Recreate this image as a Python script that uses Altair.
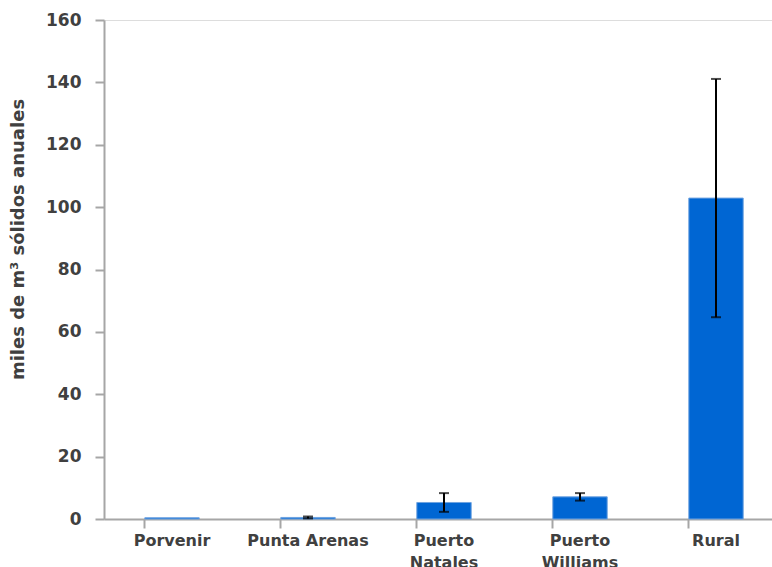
import altair as alt
import pandas as pd

# Annual solid volume by locality (thousand m³), with error half-widths
localidades = ["Porvenir", "Punta Arenas", "Puerto Natales", "Puerto Williams", "Rural"]
valores = [0.4, 0.5, 5.3, 7.1, 102.9]
errores = [0.0, 0.3, 3.0, 1.2, 38.2]

df = pd.DataFrame({"loc": localidades, "val": valores, "err": errores})
df["lo"] = df["val"] - df["err"]
df["hi"] = df["val"] + df["err"]

FONT = "DejaVu Sans"
GREY = "#a6a6a6"
TEXT = "#404040"

x_enc = alt.X(
    "loc:N",
    sort=localidades,
    scale=alt.Scale(range=[0, 680], paddingInner=0.6, paddingOuter=0.3),
    axis=alt.Axis(
        title=None,
        labelAngle=0,
        labelFont=FONT,
        labelFontSize=16,
        labelFontWeight="bold",
        labelColor=TEXT,
        labelPadding=4,
        labelLineHeight=22,
        labelExpr="indexof(datum.label, 'Puerto') == 0 ? split(datum.label, ' ') : datum.label",
        bandPosition=0,
        tickSize=9,
        tickWidth=2,
        tickColor=GREY,
        domainColor=GREY,
        domainWidth=2,
    ),
)

y_scale = alt.Scale(domain=[0, 160], nice=False)
y_axis = alt.Axis(
    title="miles de m³ sólidos anuales",
    values=[0, 20, 40, 60, 80, 100, 120, 140, 160],
    grid=False,
    labelFont=FONT,
    labelFontSize=17,
    labelFontWeight="bold",
    labelColor=TEXT,
    labelPadding=14,
    tickSize=9,
    tickWidth=2,
    tickColor=GREY,
    domainColor=GREY,
    domainWidth=2,
    titleFont=FONT,
    titleFontSize=18,
    titleFontWeight="bold",
    titleColor=TEXT,
    titleAlign="center",
    titleBaseline="middle",
    titleX=-86,
    titleY=219,
)

bars = alt.Chart(df).mark_bar(color="#0066d3", stroke="#6fa3e0", strokeWidth=1).encode(
    x=x_enc,
    y=alt.Y("val:Q", scale=y_scale, axis=y_axis),
)

err_df = df[df["err"] > 0]

stems = alt.Chart(err_df).mark_rule(color="black", strokeWidth=2).encode(
    x=alt.X("loc:N", sort=localidades),
    y="lo:Q",
    y2="hi:Q",
)

caps_hi = alt.Chart(err_df).mark_tick(color="black", size=10, thickness=2).encode(
    x=alt.X("loc:N", sort=localidades),
    y="hi:Q",
)
caps_lo = alt.Chart(err_df).mark_tick(color="black", size=10, thickness=2).encode(
    x=alt.X("loc:N", sort=localidades),
    y="lo:Q",
)

chart = (
    alt.layer(bars, stems, caps_hi, caps_lo)
    .properties(
        width=668,
        height=499,
        autosize=alt.AutoSizeParams(type="none"),
        padding={"left": 104, "top": 20, "right": 0, "bottom": 48},
    )
    .configure_view(stroke=None)
    .configure(background="white")
)

chart.save("out.html", embed_options={"renderer": "svg", "actions": False})
